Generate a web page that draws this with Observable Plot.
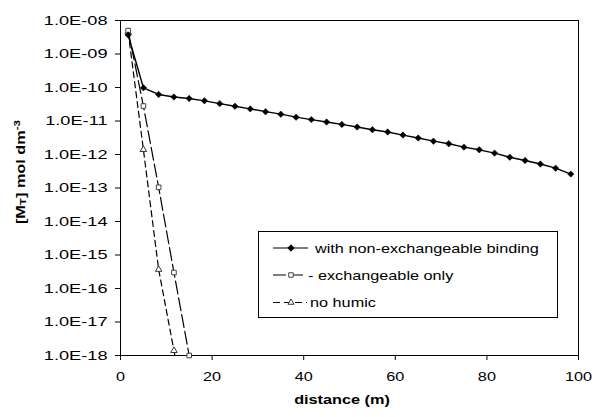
<!DOCTYPE html>
<html><head><meta charset="utf-8">
<script src="https://cdn.jsdelivr.net/npm/d3@7"></script>
<script src="https://cdn.jsdelivr.net/npm/@observablehq/plot@0.6"></script>
<style>
body{margin:0;background:#fff;}
#wrap{position:relative;width:594px;height:417px;font-family:"Liberation Sans",Arial,sans-serif;color:#000;overflow:hidden;}
.title{position:absolute;font-weight:bold;font-size:12.5px;white-space:nowrap;line-height:1;}
</style></head><body><div id="wrap"></div>
<script>
// ---- data ----
const distance = [1.67, 5, 8.33, 11.67, 15, 18.33, 21.67, 25, 28.33, 31.67, 35, 38.33, 41.67, 45, 48.33, 51.67, 55, 58.33, 61.67, 65, 68.33, 71.67, 75, 78.33, 81.67, 85, 88.33, 91.67, 95, 98.33];
const nonExchangeable = [3.7e-9, 9.8e-11, 6.2e-11, 5.2e-11, 4.7e-11, 4.0e-11, 3.3e-11, 2.75e-11, 2.3e-11, 1.9e-11, 1.6e-11, 1.3e-11, 1.1e-11, 9.3e-12, 7.9e-12, 6.6e-12, 5.5e-12, 4.7e-12, 3.8e-12, 3.1e-12, 2.5e-12, 2.1e-12, 1.66e-12, 1.38e-12, 1.1e-12, 8.3e-13, 6.6e-13, 5.2e-13, 3.9e-13, 2.6e-13];
const exchDistance = [1.67, 5, 8.33, 11.67, 15];
const exchangeableOnly = [5.0e-9, 2.8e-11, 1.05e-13, 3.0e-16, 1.0e-18];
const humicDistance = [1.67, 5, 8.33, 11.67, 15];
const noHumic = [4.5e-9, 1.4e-12, 3.7e-16, 1.4e-18, 5e-21];
const seriesNames = ["with non-exchangeable binding", "- exchangeable only", "no humic"];
const xTicks = [0, 20, 40, 60, 80, 100];
const yTicks = [1e-8, 1e-9, 1e-10, 1e-11, 1e-12, 1e-13, 1e-14, 1e-15, 1e-16, 1e-17, 1e-18];
const yTickLabels = ["1.0E-08", "1.0E-09", "1.0E-10", "1.0E-11", "1.0E-12", "1.0E-13", "1.0E-14", "1.0E-15", "1.0E-16", "1.0E-17", "1.0E-18"];
const xTitle = "distance (m)";

const s1 = distance.map((d, i) => ({d, v: nonExchangeable[i]}));
const s2 = exchDistance.map((d, i) => ({d, v: exchangeableOnly[i]}));
const s3 = humicDistance.map((d, i) => ({d, v: noHumic[i]}));

const STRETCH = 1.3;

const chart = Plot.plot({
  width: 594, height: 417,
  marginLeft: 120, marginRight: 16, marginTop: 20, marginBottom: 62,
  style: {fontFamily: "'Liberation Sans', Arial, sans-serif", fontSize: "12.5px", color: "#000", background: "#fff", overflow: "visible"},
  x: {domain: [0, 100]},
  y: {type: "log", domain: [1e-18, 1e-8]},
  marks: [
    Plot.frame({stroke: "#000", strokeWidth: 1}),
    Plot.axisX({ticks: xTicks, tickSize: 5, tickPadding: 12, label: null, fill: "#000", stroke: "#000"}),
    Plot.axisY({ticks: yTicks, tickFormat: d => yTickLabels[yTicks.indexOf(d)], tickSize: 5, tickPadding: 8, label: null, fill: "#000", fontSize: 13}),
    Plot.line(s3, {x: "d", y: "v", stroke: "#000", strokeWidth: 1.2, strokeDasharray: "6,4", clip: true}),
    Plot.line(s2, {x: "d", y: "v", stroke: "#000", strokeWidth: 1.2, strokeDasharray: "13,4"}),
    Plot.line(s1, {x: "d", y: "v", stroke: "#000", strokeWidth: 1.4}),
    Plot.dot(s3, {x: "d", y: "v", symbol: "triangle", r: 2.4, fill: "#fff", stroke: "#333", strokeWidth: 1, clip: true}),
    Plot.dot(s2, {x: "d", y: "v", symbol: "square", r: 2.6, fill: "#fff", stroke: "#444", strokeWidth: 1}),
    Plot.dot(s1, {x: "d", y: "v", symbol: "diamond2", r: 2.9, fill: "#000", stroke: "#000", strokeWidth: 0.5})
  ]
});

// stretch tick labels horizontally like the reference
chart.querySelectorAll("text").forEach(t => {
  const isY = t.getAttribute("text-anchor") === "end" || (t.parentNode && t.parentNode.getAttribute("text-anchor") === "end");
  const k = isY ? 1.4 : STRETCH;
  const tr = t.getAttribute("transform");
  if (tr) t.setAttribute("transform", tr + ` scale(${k},1)`);
  else {
    const x = +t.getAttribute("x") || 0, y = +t.getAttribute("y") || 0;
    t.removeAttribute("x"); t.removeAttribute("y");
    t.setAttribute("transform", `translate(${x},${y}) scale(${k},1)`);
  }
});

const wrap = document.getElementById("wrap");
wrap.appendChild(chart);

// axis titles
const yt = document.createElement("div");
yt.className = "title";
yt.innerHTML = '[M<span style="font-size:9px;vertical-align:-1px">T</span>] mol dm<sup style="font-size:9px;vertical-align:5px;line-height:0">-3</sup>';
yt.style.left = "21px"; yt.style.top = "172px";
yt.style.transform = `translate(-50%,-50%) rotate(-90deg) scaleX(${STRETCH})`;
wrap.appendChild(yt);

const xt = document.createElement("div");
xt.className = "title";
xt.textContent = xTitle;
xt.style.left = "342px"; xt.style.top = "400px";
xt.style.transform = `translate(-50%,-50%) scaleX(${STRETCH})`;
wrap.appendChild(xt);

// legend
const L = {x: 258, y: 231, w: 299, h: 86};
const leg = d3.select(wrap).append("svg")
  .attr("width", L.w + 2).attr("height", L.h + 2)
  .style("position", "absolute").style("left", (L.x - 0.5) + "px").style("top", (L.y - 0.5) + "px")
  .style("font-family", "'Liberation Sans', Arial, sans-serif").style("font-size", "12.5px");
leg.append("rect").attr("x", 0.5).attr("y", 0.5).attr("width", L.w).attr("height", L.h)
  .attr("fill", "#fff").attr("stroke", "#000").attr("stroke-width", 1);
const rows = [
  {cy: 17, dash: null, sym: d3.symbolDiamond2, size: 26, fill: "#000", stroke: "#000", x2: 50, tx: 57},
  {cy: 44, dash: "13,4", sym: d3.symbolSquare, size: 20, fill: "#fff", stroke: "#444", x2: 47, tx: 50},
  {cy: 71.5, dash: "7,4", sym: d3.symbolTriangle, size: 16, fill: "#fff", stroke: "#333", x2: 49, tx: 52}
];
rows.forEach((r, i) => {
  leg.append("line").attr("x1", 15).attr("x2", r.x2).attr("y1", r.cy).attr("y2", r.cy)
    .attr("stroke", "#000").attr("stroke-width", 1.2).attr("stroke-dasharray", r.dash);
  leg.append("path").attr("d", d3.symbol(r.sym, r.size)()).attr("transform", `translate(33,${r.cy})`)
    .attr("fill", r.fill).attr("stroke", r.stroke).attr("stroke-width", 1);
  leg.append("text").attr("transform", `translate(${r.tx},${r.cy + 4.5}) scale(${STRETCH},1)`)
    .attr("fill", "#000").text(seriesNames[i]);
});
</script></body></html>
